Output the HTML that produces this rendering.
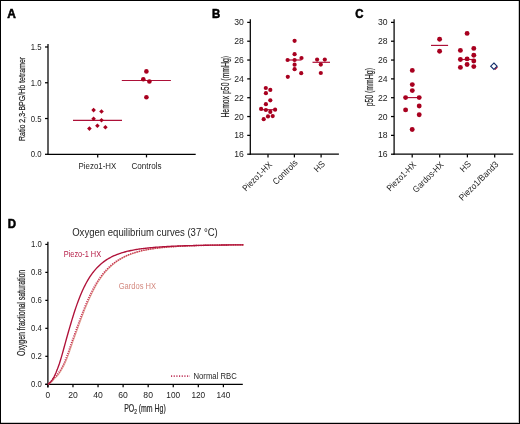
<!DOCTYPE html>
<html><head><meta charset="utf-8"><style>
html,body{margin:0;padding:0;background:#fff;}
body{width:520px;height:424px;overflow:hidden;position:relative;}
svg{position:absolute;left:0;top:0;will-change:transform;font-family:"Liberation Sans", sans-serif;}
.frame{position:absolute;left:0;top:0;width:518px;height:422px;border:1px solid #000;box-shadow:inset -1px -1px 0 rgba(0,0,0,0.22);}
</style></head><body>
<svg width="520" height="424" viewBox="0 0 520 424">
<text x="7.30" y="17.70" font-size="12.5" text-anchor="start" fill="#000" font-weight="bold" textLength="8.6" lengthAdjust="spacingAndGlyphs" stroke="#000" stroke-width="0.55">A</text>
<line x1="48.00" y1="44.00" x2="48.00" y2="154.85" stroke="#000" stroke-width="1.25"/>
<line x1="47.45" y1="154.30" x2="195.70" y2="154.30" stroke="#000" stroke-width="1.25"/>
<line x1="45.00" y1="154.30" x2="48.00" y2="154.30" stroke="#000" stroke-width="1.25"/>
<text x="41.60" y="157.30" font-size="8.6" text-anchor="end" fill="#222222" textLength="10.8" lengthAdjust="spacingAndGlyphs">0.0</text>
<line x1="45.00" y1="118.53" x2="48.00" y2="118.53" stroke="#000" stroke-width="1.25"/>
<text x="41.60" y="121.53" font-size="8.6" text-anchor="end" fill="#222222" textLength="10.8" lengthAdjust="spacingAndGlyphs">0.5</text>
<line x1="45.00" y1="82.76" x2="48.00" y2="82.76" stroke="#000" stroke-width="1.25"/>
<text x="41.60" y="85.76" font-size="8.6" text-anchor="end" fill="#222222" textLength="10.8" lengthAdjust="spacingAndGlyphs">1.0</text>
<line x1="45.00" y1="46.99" x2="48.00" y2="46.99" stroke="#000" stroke-width="1.25"/>
<text x="41.60" y="49.99" font-size="8.6" text-anchor="end" fill="#222222" textLength="10.8" lengthAdjust="spacingAndGlyphs">1.5</text>
<line x1="97.70" y1="154.30" x2="97.70" y2="157.40" stroke="#000" stroke-width="1.25"/>
<line x1="146.50" y1="154.30" x2="146.50" y2="157.40" stroke="#000" stroke-width="1.25"/>
<text x="97.40" y="168.60" font-size="8.4" text-anchor="middle" fill="#262626" textLength="37.7" lengthAdjust="spacingAndGlyphs">Piezo1-HX</text>
<text x="146.50" y="168.60" font-size="8.4" text-anchor="middle" fill="#262626" textLength="30.1" lengthAdjust="spacingAndGlyphs">Controls</text>
<text x="0.00" y="0.00" font-size="9.9" text-anchor="middle" fill="#262626" textLength="84.2" lengthAdjust="spacingAndGlyphs" transform="translate(24.5,98.9) rotate(-90)" stroke="#262626" stroke-width="0.22">Ratio 2,3-BPG/Hb tetramer</text>
<line x1="73.00" y1="120.40" x2="122.00" y2="120.40" stroke="#ad1038" stroke-width="1.2"/>
<line x1="121.80" y1="80.50" x2="170.90" y2="80.50" stroke="#ad1038" stroke-width="1.2"/>
<path d="M93.60 107.80L95.90 110.10L93.60 112.40L91.30 110.10Z" fill="#a8001f"/>
<path d="M101.50 109.20L103.80 111.50L101.50 113.80L99.20 111.50Z" fill="#a8001f"/>
<path d="M93.60 116.45L95.90 118.75L93.60 121.05L91.30 118.75Z" fill="#a8001f"/>
<path d="M101.50 117.90L103.80 120.20L101.50 122.50L99.20 120.20Z" fill="#a8001f"/>
<path d="M97.40 123.50L99.70 125.80L97.40 128.10L95.10 125.80Z" fill="#a8001f"/>
<path d="M89.40 126.30L91.70 128.60L89.40 130.90L87.10 128.60Z" fill="#a8001f"/>
<path d="M105.40 124.90L107.70 127.20L105.40 129.50L103.10 127.20Z" fill="#a8001f"/>
<circle cx="146.40" cy="71.40" r="2.3" fill="#a8001f"/>
<circle cx="143.30" cy="79.20" r="2.3" fill="#a8001f"/>
<circle cx="149.40" cy="81.50" r="2.3" fill="#a8001f"/>
<circle cx="146.40" cy="97.30" r="2.3" fill="#a8001f"/>
<text x="212.10" y="17.70" font-size="12.5" text-anchor="start" fill="#000" font-weight="bold" textLength="8.2" lengthAdjust="spacingAndGlyphs" stroke="#000" stroke-width="0.55">B</text>
<line x1="250.30" y1="19.20" x2="250.30" y2="154.75" stroke="#000" stroke-width="1.25"/>
<line x1="249.75" y1="154.20" x2="338.90" y2="154.20" stroke="#000" stroke-width="1.25"/>
<line x1="247.20" y1="154.20" x2="250.30" y2="154.20" stroke="#000" stroke-width="1.25"/>
<text x="243.90" y="157.20" font-size="8.6" text-anchor="end" fill="#222222" textLength="9.6" lengthAdjust="spacingAndGlyphs">16</text>
<line x1="247.20" y1="135.37" x2="250.30" y2="135.37" stroke="#000" stroke-width="1.25"/>
<text x="243.90" y="138.37" font-size="8.6" text-anchor="end" fill="#222222" textLength="9.6" lengthAdjust="spacingAndGlyphs">18</text>
<line x1="247.20" y1="116.54" x2="250.30" y2="116.54" stroke="#000" stroke-width="1.25"/>
<text x="243.90" y="119.54" font-size="8.6" text-anchor="end" fill="#222222" textLength="9.6" lengthAdjust="spacingAndGlyphs">20</text>
<line x1="247.20" y1="97.71" x2="250.30" y2="97.71" stroke="#000" stroke-width="1.25"/>
<text x="243.90" y="100.71" font-size="8.6" text-anchor="end" fill="#222222" textLength="9.6" lengthAdjust="spacingAndGlyphs">22</text>
<line x1="247.20" y1="78.88" x2="250.30" y2="78.88" stroke="#000" stroke-width="1.25"/>
<text x="243.90" y="81.88" font-size="8.6" text-anchor="end" fill="#222222" textLength="9.6" lengthAdjust="spacingAndGlyphs">24</text>
<line x1="247.20" y1="60.05" x2="250.30" y2="60.05" stroke="#000" stroke-width="1.25"/>
<text x="243.90" y="63.05" font-size="8.6" text-anchor="end" fill="#222222" textLength="9.6" lengthAdjust="spacingAndGlyphs">26</text>
<line x1="247.20" y1="41.22" x2="250.30" y2="41.22" stroke="#000" stroke-width="1.25"/>
<text x="243.90" y="44.22" font-size="8.6" text-anchor="end" fill="#222222" textLength="9.6" lengthAdjust="spacingAndGlyphs">28</text>
<line x1="247.20" y1="22.39" x2="250.30" y2="22.39" stroke="#000" stroke-width="1.25"/>
<text x="243.90" y="25.39" font-size="8.6" text-anchor="end" fill="#222222" textLength="9.6" lengthAdjust="spacingAndGlyphs">30</text>
<line x1="268.00" y1="154.20" x2="268.00" y2="157.40" stroke="#000" stroke-width="1.25"/>
<line x1="294.40" y1="154.20" x2="294.40" y2="157.40" stroke="#000" stroke-width="1.25"/>
<line x1="321.10" y1="154.20" x2="321.10" y2="157.40" stroke="#000" stroke-width="1.25"/>
<text x="0.00" y="0.00" font-size="9.0" text-anchor="end" fill="#262626" textLength="37.7" lengthAdjust="spacingAndGlyphs" transform="translate(272.60,165.20) rotate(-45)">Piezo1-HX</text>
<text x="0.00" y="0.00" font-size="9.0" text-anchor="end" fill="#262626" textLength="31.0" lengthAdjust="spacingAndGlyphs" transform="translate(298.20,163.40) rotate(-45)">Controls</text>
<text x="0.00" y="0.00" font-size="9.0" text-anchor="end" fill="#262626" textLength="11.5" lengthAdjust="spacingAndGlyphs" transform="translate(325.70,164.70) rotate(-45)">HS</text>
<text x="0.00" y="0.00" font-size="10.8" text-anchor="middle" fill="#262626" textLength="61.7" lengthAdjust="spacingAndGlyphs" transform="translate(228.70,86.75) rotate(-90)" stroke="#262626" stroke-width="0.22">Hemox p50 (mmHg)</text>
<line x1="261.10" y1="109.70" x2="275.10" y2="109.70" stroke="#ad1038" stroke-width="1.2"/>
<line x1="287.60" y1="60.00" x2="301.50" y2="60.00" stroke="#ad1038" stroke-width="1.2"/>
<line x1="312.50" y1="62.30" x2="330.00" y2="62.30" stroke="#ad1038" stroke-width="1.2"/>
<circle cx="265.80" cy="88.00" r="2.1" fill="#a8001f"/>
<circle cx="270.30" cy="89.90" r="2.1" fill="#a8001f"/>
<circle cx="265.90" cy="93.20" r="2.1" fill="#a8001f"/>
<circle cx="270.30" cy="100.30" r="2.1" fill="#a8001f"/>
<circle cx="265.90" cy="104.20" r="2.1" fill="#a8001f"/>
<circle cx="261.10" cy="108.90" r="2.1" fill="#a8001f"/>
<circle cx="265.90" cy="110.00" r="2.1" fill="#a8001f"/>
<circle cx="275.10" cy="109.70" r="2.1" fill="#a8001f"/>
<circle cx="270.30" cy="111.90" r="2.1" fill="#a8001f"/>
<circle cx="268.00" cy="116.40" r="2.1" fill="#a8001f"/>
<circle cx="272.70" cy="116.10" r="2.1" fill="#a8001f"/>
<circle cx="263.70" cy="119.20" r="2.1" fill="#a8001f"/>
<circle cx="294.60" cy="40.80" r="2.1" fill="#a8001f"/>
<circle cx="294.60" cy="54.20" r="2.1" fill="#a8001f"/>
<circle cx="301.50" cy="58.00" r="2.1" fill="#a8001f"/>
<circle cx="287.60" cy="60.00" r="2.1" fill="#a8001f"/>
<circle cx="294.60" cy="60.00" r="2.1" fill="#a8001f"/>
<circle cx="294.60" cy="64.70" r="2.1" fill="#a8001f"/>
<circle cx="294.60" cy="69.20" r="2.1" fill="#a8001f"/>
<circle cx="301.20" cy="73.20" r="2.1" fill="#a8001f"/>
<circle cx="287.80" cy="76.80" r="2.1" fill="#a8001f"/>
<circle cx="317.10" cy="59.60" r="2.1" fill="#a8001f"/>
<circle cx="324.80" cy="59.60" r="2.1" fill="#a8001f"/>
<circle cx="320.80" cy="64.60" r="2.1" fill="#a8001f"/>
<circle cx="320.80" cy="73.00" r="2.1" fill="#a8001f"/>
<text x="355.20" y="17.90" font-size="12.5" text-anchor="start" fill="#000" font-weight="bold" textLength="8.2" lengthAdjust="spacingAndGlyphs" stroke="#000" stroke-width="0.55">C</text>
<line x1="394.10" y1="19.20" x2="394.10" y2="154.75" stroke="#000" stroke-width="1.25"/>
<line x1="393.55" y1="154.20" x2="513.20" y2="154.20" stroke="#000" stroke-width="1.25"/>
<line x1="391.00" y1="154.20" x2="394.10" y2="154.20" stroke="#000" stroke-width="1.25"/>
<text x="387.60" y="157.20" font-size="8.6" text-anchor="end" fill="#222222" textLength="9.6" lengthAdjust="spacingAndGlyphs">16</text>
<line x1="391.00" y1="135.37" x2="394.10" y2="135.37" stroke="#000" stroke-width="1.25"/>
<text x="387.60" y="138.37" font-size="8.6" text-anchor="end" fill="#222222" textLength="9.6" lengthAdjust="spacingAndGlyphs">18</text>
<line x1="391.00" y1="116.54" x2="394.10" y2="116.54" stroke="#000" stroke-width="1.25"/>
<text x="387.60" y="119.54" font-size="8.6" text-anchor="end" fill="#222222" textLength="9.6" lengthAdjust="spacingAndGlyphs">20</text>
<line x1="391.00" y1="97.71" x2="394.10" y2="97.71" stroke="#000" stroke-width="1.25"/>
<text x="387.60" y="100.71" font-size="8.6" text-anchor="end" fill="#222222" textLength="9.6" lengthAdjust="spacingAndGlyphs">22</text>
<line x1="391.00" y1="78.88" x2="394.10" y2="78.88" stroke="#000" stroke-width="1.25"/>
<text x="387.60" y="81.88" font-size="8.6" text-anchor="end" fill="#222222" textLength="9.6" lengthAdjust="spacingAndGlyphs">24</text>
<line x1="391.00" y1="60.05" x2="394.10" y2="60.05" stroke="#000" stroke-width="1.25"/>
<text x="387.60" y="63.05" font-size="8.6" text-anchor="end" fill="#222222" textLength="9.6" lengthAdjust="spacingAndGlyphs">26</text>
<line x1="391.00" y1="41.22" x2="394.10" y2="41.22" stroke="#000" stroke-width="1.25"/>
<text x="387.60" y="44.22" font-size="8.6" text-anchor="end" fill="#222222" textLength="9.6" lengthAdjust="spacingAndGlyphs">28</text>
<line x1="391.00" y1="22.39" x2="394.10" y2="22.39" stroke="#000" stroke-width="1.25"/>
<text x="387.60" y="25.39" font-size="8.6" text-anchor="end" fill="#222222" textLength="9.6" lengthAdjust="spacingAndGlyphs">30</text>
<line x1="412.20" y1="154.20" x2="412.20" y2="157.40" stroke="#000" stroke-width="1.25"/>
<line x1="439.70" y1="154.20" x2="439.70" y2="157.40" stroke="#000" stroke-width="1.25"/>
<line x1="467.40" y1="154.20" x2="467.40" y2="157.40" stroke="#000" stroke-width="1.25"/>
<line x1="494.70" y1="154.20" x2="494.70" y2="157.40" stroke="#000" stroke-width="1.25"/>
<text x="0.00" y="0.00" font-size="9.0" text-anchor="end" fill="#262626" textLength="37.7" lengthAdjust="spacingAndGlyphs" transform="translate(416.80,165.20) rotate(-45)">Piezo1-HX</text>
<text x="0.00" y="0.00" font-size="9.0" text-anchor="end" fill="#262626" textLength="39.5" lengthAdjust="spacingAndGlyphs" transform="translate(444.30,165.20) rotate(-45)">Gardos-HX</text>
<text x="0.00" y="0.00" font-size="9.0" text-anchor="end" fill="#262626" textLength="11.5" lengthAdjust="spacingAndGlyphs" transform="translate(471.70,164.60) rotate(-45)">HS</text>
<text x="0.00" y="0.00" font-size="9.0" text-anchor="end" fill="#262626" textLength="51.5" lengthAdjust="spacingAndGlyphs" transform="translate(499.00,164.90) rotate(-45)">Piezo1/Band3</text>
<text x="0.00" y="0.00" font-size="10.8" text-anchor="middle" fill="#262626" textLength="38.3" lengthAdjust="spacingAndGlyphs" transform="translate(372.50,87.20) rotate(-90)" stroke="#262626" stroke-width="0.22">p50 (mmHg)</text>
<line x1="405.60" y1="97.60" x2="419.20" y2="97.60" stroke="#ad1038" stroke-width="1.15"/>
<line x1="431.00" y1="45.40" x2="448.10" y2="45.40" stroke="#ad1038" stroke-width="1.15"/>
<line x1="460.40" y1="59.50" x2="473.80" y2="59.50" stroke="#ad1038" stroke-width="1.15"/>
<circle cx="412.30" cy="70.40" r="2.45" fill="#a8001f"/>
<circle cx="412.30" cy="84.60" r="2.45" fill="#a8001f"/>
<circle cx="412.30" cy="90.60" r="2.45" fill="#a8001f"/>
<circle cx="405.60" cy="97.60" r="2.45" fill="#a8001f"/>
<circle cx="419.20" cy="97.60" r="2.45" fill="#a8001f"/>
<circle cx="419.20" cy="106.00" r="2.45" fill="#a8001f"/>
<circle cx="405.60" cy="109.90" r="2.45" fill="#a8001f"/>
<circle cx="419.20" cy="114.80" r="2.45" fill="#a8001f"/>
<circle cx="412.20" cy="129.50" r="2.45" fill="#a8001f"/>
<circle cx="439.60" cy="39.30" r="2.45" fill="#a8001f"/>
<circle cx="439.60" cy="51.20" r="2.45" fill="#a8001f"/>
<circle cx="467.10" cy="33.40" r="2.45" fill="#a8001f"/>
<circle cx="460.40" cy="50.40" r="2.45" fill="#a8001f"/>
<circle cx="473.80" cy="48.40" r="2.45" fill="#a8001f"/>
<circle cx="473.80" cy="55.20" r="2.45" fill="#a8001f"/>
<circle cx="460.40" cy="59.50" r="2.45" fill="#a8001f"/>
<circle cx="467.10" cy="58.90" r="2.45" fill="#a8001f"/>
<circle cx="473.80" cy="61.00" r="2.45" fill="#a8001f"/>
<circle cx="467.10" cy="64.50" r="2.45" fill="#a8001f"/>
<circle cx="460.40" cy="67.40" r="2.45" fill="#a8001f"/>
<circle cx="473.80" cy="66.60" r="2.45" fill="#a8001f"/>
<path d="M494.8 69.6L497.4 67.0" stroke="#c0102f" stroke-width="1.4" fill="none"/>
<path d="M493.9 63.0L497.1 66.2L493.9 69.4L490.7 66.2Z" fill="#fff" stroke="#18336f" stroke-width="1.15"/>
<text x="7.80" y="228.00" font-size="12.5" text-anchor="start" fill="#000" font-weight="bold" textLength="8.3" lengthAdjust="spacingAndGlyphs" stroke="#000" stroke-width="0.55">D</text>
<line x1="47.90" y1="241.80" x2="47.90" y2="387.60" stroke="#000" stroke-width="1.25"/>
<line x1="45.30" y1="384.30" x2="242.80" y2="384.30" stroke="#000" stroke-width="1.25"/>
<line x1="45.30" y1="384.30" x2="47.90" y2="384.30" stroke="#000" stroke-width="1.25"/>
<text x="41.80" y="387.30" font-size="8.6" text-anchor="end" fill="#222222" textLength="10.8" lengthAdjust="spacingAndGlyphs">0.0</text>
<line x1="45.30" y1="356.32" x2="47.90" y2="356.32" stroke="#000" stroke-width="1.25"/>
<text x="41.80" y="359.32" font-size="8.6" text-anchor="end" fill="#222222" textLength="10.8" lengthAdjust="spacingAndGlyphs">0.2</text>
<line x1="45.30" y1="328.34" x2="47.90" y2="328.34" stroke="#000" stroke-width="1.25"/>
<text x="41.80" y="331.34" font-size="8.6" text-anchor="end" fill="#222222" textLength="10.8" lengthAdjust="spacingAndGlyphs">0.4</text>
<line x1="45.30" y1="300.36" x2="47.90" y2="300.36" stroke="#000" stroke-width="1.25"/>
<text x="41.80" y="303.36" font-size="8.6" text-anchor="end" fill="#222222" textLength="10.8" lengthAdjust="spacingAndGlyphs">0.6</text>
<line x1="45.30" y1="272.38" x2="47.90" y2="272.38" stroke="#000" stroke-width="1.25"/>
<text x="41.80" y="275.38" font-size="8.6" text-anchor="end" fill="#222222" textLength="10.8" lengthAdjust="spacingAndGlyphs">0.8</text>
<line x1="45.30" y1="244.40" x2="47.90" y2="244.40" stroke="#000" stroke-width="1.25"/>
<text x="41.80" y="247.40" font-size="8.6" text-anchor="end" fill="#222222" textLength="10.8" lengthAdjust="spacingAndGlyphs">1.0</text>
<line x1="47.90" y1="384.30" x2="47.90" y2="387.20" stroke="#000" stroke-width="1.25"/>
<text x="47.90" y="398.40" font-size="8.6" text-anchor="middle" fill="#222222" textLength="4.6" lengthAdjust="spacingAndGlyphs">0</text>
<line x1="72.97" y1="384.30" x2="72.97" y2="387.20" stroke="#000" stroke-width="1.25"/>
<text x="72.97" y="398.40" font-size="8.6" text-anchor="middle" fill="#222222" textLength="9.6" lengthAdjust="spacingAndGlyphs">20</text>
<line x1="98.04" y1="384.30" x2="98.04" y2="387.20" stroke="#000" stroke-width="1.25"/>
<text x="98.04" y="398.40" font-size="8.6" text-anchor="middle" fill="#222222" textLength="9.6" lengthAdjust="spacingAndGlyphs">40</text>
<line x1="123.11" y1="384.30" x2="123.11" y2="387.20" stroke="#000" stroke-width="1.25"/>
<text x="123.11" y="398.40" font-size="8.6" text-anchor="middle" fill="#222222" textLength="9.6" lengthAdjust="spacingAndGlyphs">60</text>
<line x1="148.18" y1="384.30" x2="148.18" y2="387.20" stroke="#000" stroke-width="1.25"/>
<text x="148.18" y="398.40" font-size="8.6" text-anchor="middle" fill="#222222" textLength="9.6" lengthAdjust="spacingAndGlyphs">80</text>
<line x1="173.25" y1="384.30" x2="173.25" y2="387.20" stroke="#000" stroke-width="1.25"/>
<text x="173.25" y="398.40" font-size="8.6" text-anchor="middle" fill="#222222" textLength="13.8" lengthAdjust="spacingAndGlyphs">100</text>
<line x1="198.32" y1="384.30" x2="198.32" y2="387.20" stroke="#000" stroke-width="1.25"/>
<text x="198.32" y="398.40" font-size="8.6" text-anchor="middle" fill="#222222" textLength="13.8" lengthAdjust="spacingAndGlyphs">120</text>
<line x1="223.39" y1="384.30" x2="223.39" y2="387.20" stroke="#000" stroke-width="1.25"/>
<text x="223.39" y="398.40" font-size="8.6" text-anchor="middle" fill="#222222" textLength="13.8" lengthAdjust="spacingAndGlyphs">140</text>
<text x="72.20" y="235.60" font-size="10.1" text-anchor="start" fill="#262626" textLength="145.6" lengthAdjust="spacingAndGlyphs">Oxygen equilibrium curves (37 °C)</text>
<text x="63.70" y="256.80" font-size="8.8" text-anchor="start" fill="#b51c46" textLength="37.4" lengthAdjust="spacingAndGlyphs">Piezo-1 HX</text>
<text x="118.70" y="288.60" font-size="8.8" text-anchor="start" fill="#d48a80" textLength="37.4" lengthAdjust="spacingAndGlyphs">Gardos HX</text>
<line x1="171.0" y1="376.1" x2="190.0" y2="376.1" stroke="#c23e62" stroke-width="1.8" stroke-dasharray="1.15 1.52"/>
<text x="193.50" y="378.90" font-size="8.8" text-anchor="start" fill="#262626" textLength="43.3" lengthAdjust="spacingAndGlyphs">Normal RBC</text>
<text x="0.00" y="0.00" font-size="11" text-anchor="middle" fill="#262626" textLength="86.2" lengthAdjust="spacingAndGlyphs" transform="translate(24.9,312.9) rotate(-90)" stroke="#262626" stroke-width="0.22">Oxygen fractional saturation</text>
<text x="124.2" y="411.9" font-size="11" fill="#262626" stroke="#262626" stroke-width="0.22" textLength="41.5" lengthAdjust="spacingAndGlyphs">PO<tspan font-size="7.6" dy="2.2">2</tspan><tspan dy="-2.2"> (mm Hg)</tspan></text>
<path d="M47.90,384.30 L48.53,384.05 49.15,383.69 49.78,383.26 50.40,382.79 51.03,382.28 51.65,381.74 52.28,381.17 52.90,380.58 53.40,379.96 53.86,379.33 54.31,378.67 54.94,378.16 56.00,377.17 57.06,376.04 58.12,374.76 59.18,373.35 60.25,371.80 61.31,370.12 62.37,368.30 63.43,366.36 64.49,364.28 65.49,362.09 66.44,359.78 67.39,357.37 68.33,354.85 69.27,352.25 70.20,349.56 71.13,346.81 72.06,343.99 73.04,341.13 74.10,338.23 75.16,335.31 76.22,332.38 77.28,329.44 78.34,326.51 79.40,323.61 80.46,320.72 81.52,317.88 82.59,315.08 83.65,312.33 84.71,309.64 85.77,307.01 86.83,304.45 87.89,301.96 88.95,299.54 90.01,297.20 91.07,294.93 92.13,292.75 93.19,290.64 94.26,288.61 95.32,286.67 96.38,284.79 97.44,283.00 98.50,281.28 99.56,279.63 100.65,278.06 101.74,276.55 102.83,275.11 103.92,273.74 105.01,272.43 106.10,271.17 107.18,269.98 108.27,268.84 109.35,267.76 110.44,266.73 111.52,265.74 112.60,264.80 113.68,263.91 114.76,263.06 115.83,262.25 116.91,261.48 117.99,260.74 119.06,260.05 120.14,259.38 121.21,258.74 122.29,258.14 123.36,257.56 124.43,257.02 125.50,256.49 126.58,255.99 127.64,255.52 128.69,255.07 129.73,254.63 130.78,254.22 131.83,253.83 132.87,253.45 133.92,253.10 134.97,252.75 136.02,252.43 137.07,252.12 138.12,251.82 139.17,251.54 140.22,251.26 141.27,251.00 142.32,250.76 143.38,250.52 144.43,250.29 145.48,250.07 146.54,249.87 147.59,249.67 148.64,249.48 149.70,249.29 150.75,249.12 151.81,248.95 152.86,248.79 153.92,248.64 154.97,248.49 156.03,248.35 157.09,248.21 158.14,248.08 159.20,247.96 160.26,247.83 161.31,247.72 162.37,247.61 163.43,247.50 164.48,247.40 165.54,247.30 166.60,247.21 167.66,247.12 168.71,247.03 169.77,246.94 170.83,246.86 171.89,246.78 172.95,246.71 174.01,246.64 175.06,246.57 176.12,246.50 177.18,246.44 178.24,246.37 179.30,246.31 180.36,246.26 181.42,246.20 182.47,246.15 183.53,246.09 184.59,246.04 185.65,245.99 186.71,245.95 187.77,245.90 188.83,245.86 189.89,245.82 190.95,245.78 192.01,245.74 193.07,245.70 194.13,245.66 195.19,245.63 196.25,245.59 197.31,245.56 198.37,245.53 199.43,245.50 200.49,245.47 201.55,245.44 202.61,245.41 203.67,245.38 204.73,245.36 205.79,245.33 206.85,245.31 207.91,245.28 208.97,245.26 210.03,245.24 211.09,245.21 212.15,245.19 213.21,245.17 214.27,245.15 215.33,245.13 216.39,245.11 217.45,245.10 218.51,245.08 219.57,245.06 220.63,245.05 221.69,245.03 222.75,245.01 223.81,245.00 224.87,244.98 225.93,244.97 226.99,244.96 228.05,244.94 229.11,244.93 230.17,244.92 231.23,244.90 232.29,244.89 233.35,244.88 234.41,244.87 235.47,244.86 236.54,244.85 237.60,244.84 238.66,244.83 239.72,244.82 240.78,244.81 241.84,244.80 242.90,244.79 243.96,244.78" fill="none" stroke="#e0a292" stroke-width="1.2"/>
<path d="M47.90,384.30 L48.40,384.05 48.91,383.69 49.41,383.26 49.92,382.79 50.42,382.28 50.93,381.74 51.43,381.17 51.93,380.58 52.40,379.96 52.86,379.33 53.31,378.67 53.94,378.16 55.00,377.17 56.06,376.04 57.12,374.76 58.18,373.35 59.25,371.80 60.31,370.12 61.37,368.30 62.43,366.36 63.49,364.28 64.49,362.09 65.44,359.78 66.39,357.37 67.33,354.85 68.27,352.25 69.20,349.56 70.13,346.81 71.06,343.99 72.04,341.13 73.10,338.23 74.16,335.31 75.22,332.38 76.28,329.44 77.34,326.51 78.40,323.61 79.46,320.72 80.52,317.88 81.59,315.08 82.65,312.33 83.71,309.64 84.77,307.01 85.83,304.45 86.89,301.96 87.95,299.54 89.01,297.20 90.07,294.93 91.13,292.75 92.19,290.64 93.26,288.61 94.32,286.67 95.38,284.79 96.44,283.00 97.50,281.28 98.56,279.63 99.65,278.06 100.75,276.55 101.85,275.11 102.95,273.74 104.04,272.43 105.13,271.17 106.22,269.98 107.31,268.84 108.40,267.76 109.49,266.73 110.57,265.74 111.66,264.80 112.74,263.91 113.82,263.06 114.91,262.25 115.99,261.48 117.07,260.74 118.14,260.05 119.22,259.38 120.30,258.74 121.38,258.14 122.45,257.56 123.53,257.02 124.60,256.49 125.67,255.99 126.74,255.52 127.81,255.07 128.87,254.63 129.93,254.22 130.99,253.83 132.05,253.45 133.11,253.10 134.17,252.75 135.23,252.43 136.29,252.12 137.35,251.82 138.41,251.54 139.48,251.26 140.54,251.00 141.60,250.76 142.66,250.52 143.72,250.29 144.78,250.07 145.84,249.87 146.90,249.67 147.96,249.48 149.02,249.29 150.08,249.12 151.15,248.95 152.21,248.79 153.27,248.64 154.33,248.49 155.39,248.35 156.45,248.21 157.51,248.08 158.57,247.96 159.63,247.83 160.69,247.72 161.75,247.61 162.82,247.50 163.88,247.40 164.94,247.30 166.00,247.21 167.06,247.12 168.12,247.03 169.18,246.94 170.24,246.86 171.30,246.78 172.36,246.71 173.43,246.64 174.49,246.57 175.55,246.50 176.61,246.44 177.67,246.37 178.73,246.31 179.79,246.26 180.85,246.20 181.91,246.15 182.97,246.09 184.03,246.04 185.10,245.99 186.16,245.95 187.22,245.90 188.28,245.86 189.34,245.82 190.40,245.78 191.46,245.74 192.52,245.70 193.58,245.66 194.64,245.63 195.70,245.59 196.77,245.56 197.83,245.53 198.89,245.50 199.95,245.47 201.01,245.44 202.07,245.41 203.13,245.38 204.19,245.36 205.25,245.33 206.31,245.31 207.37,245.28 208.44,245.26 209.50,245.24 210.56,245.21 211.62,245.19 212.68,245.17 213.74,245.15 214.80,245.13 215.86,245.11 216.92,245.10 217.98,245.08 219.04,245.06 220.11,245.05 221.17,245.03 222.23,245.01 223.29,245.00 224.35,244.98 225.41,244.97 226.47,244.96 227.53,244.94 228.59,244.93 229.65,244.92 230.71,244.90 231.78,244.89 232.84,244.88 233.90,244.87 234.96,244.86 236.02,244.85 237.08,244.84 238.14,244.83 239.20,244.82 240.26,244.81 241.32,244.80 242.39,244.79 243.45,244.78" fill="none" stroke="#c62a52" stroke-width="1.5" stroke-dasharray="1.1 1.2"/>
<path d="M47.90,384.30 L48.42,384.02 48.93,383.60 49.45,383.12 49.97,382.58 50.48,382.00 51.00,381.39 51.51,380.74 52.03,380.07 52.50,379.37 52.96,378.64 53.41,377.90 54.04,376.76 55.10,374.63 56.16,372.24 57.22,369.62 58.28,366.78 59.35,363.73 60.37,360.50 61.38,357.12 62.39,353.60 63.40,349.99 64.41,346.29 65.41,342.55 66.47,338.79 67.53,335.03 68.59,331.29 69.65,327.59 70.72,323.95 71.78,320.40 72.84,316.93 73.90,313.56 74.96,310.30 76.02,307.15 77.08,304.12 78.14,301.21 79.20,298.43 80.26,295.77 81.32,293.23 82.39,290.81 83.45,288.51 84.51,286.32 85.57,284.25 86.63,282.28 87.69,280.41 88.75,278.64 89.81,276.97 90.87,275.38 91.93,273.88 92.99,272.46 94.06,271.12 95.12,269.85 96.18,268.65 97.24,267.51 98.30,266.44 99.36,265.42 100.41,264.46 101.46,263.55 102.50,262.69 103.55,261.87 104.60,261.10 105.65,260.37 106.71,259.68 107.76,259.02 108.81,258.39 109.86,257.80 110.91,257.24 111.97,256.71 113.02,256.20 114.08,255.72 115.13,255.26 116.18,254.83 117.24,254.41 118.29,254.02 119.35,253.64 120.41,253.29 121.46,252.95 122.52,252.62 123.57,252.31 124.63,252.02 125.69,251.74 126.75,251.47 127.81,251.21 128.87,250.97 129.93,250.73 130.99,250.51 132.05,250.30 133.11,250.09 134.17,249.90 135.23,249.71 136.29,249.53 137.35,249.36 138.41,249.19 139.48,249.03 140.54,248.88 141.60,248.74 142.66,248.60 143.72,248.46 144.78,248.33 145.84,248.21 146.90,248.09 147.96,247.98 149.02,247.87 150.08,247.76 151.15,247.66 152.21,247.56 153.27,247.47 154.33,247.38 155.39,247.29 156.45,247.20 157.51,247.12 158.57,247.05 159.63,246.97 160.69,246.90 161.75,246.83 162.82,246.76 163.88,246.69 164.94,246.63 166.00,246.57 167.06,246.51 168.12,246.45 169.18,246.40 170.24,246.35 171.30,246.29 172.36,246.25 173.43,246.20 174.49,246.15 175.55,246.11 176.61,246.06 177.67,246.02 178.73,245.98 179.79,245.94 180.85,245.90 181.91,245.86 182.97,245.83 184.03,245.79 185.10,245.76 186.16,245.73 187.22,245.69 188.28,245.66 189.34,245.63 190.40,245.60 191.46,245.58 192.52,245.55 193.58,245.52 194.64,245.50 195.70,245.47 196.77,245.45 197.83,245.42 198.89,245.40 199.95,245.38 201.01,245.36 202.07,245.34 203.13,245.31 204.19,245.29 205.25,245.28 206.31,245.26 207.37,245.24 208.44,245.22 209.50,245.20 210.56,245.19 211.62,245.17 212.68,245.15 213.74,245.14 214.80,245.12 215.86,245.11 216.92,245.09 217.98,245.08 219.04,245.06 220.11,245.05 221.17,245.04 222.23,245.03 223.29,245.01 224.35,245.00 225.41,244.99 226.47,244.98 227.53,244.97 228.59,244.95 229.65,244.94 230.71,244.93 231.78,244.92 232.84,244.91 233.90,244.90 234.96,244.89 236.02,244.88 237.08,244.88 238.14,244.87 239.20,244.86 240.26,244.85 241.32,244.84 242.39,244.83 243.45,244.83" fill="none" stroke="#b0123a" stroke-width="1.35"/>
</svg>
<div class="frame"></div>
</body></html>
